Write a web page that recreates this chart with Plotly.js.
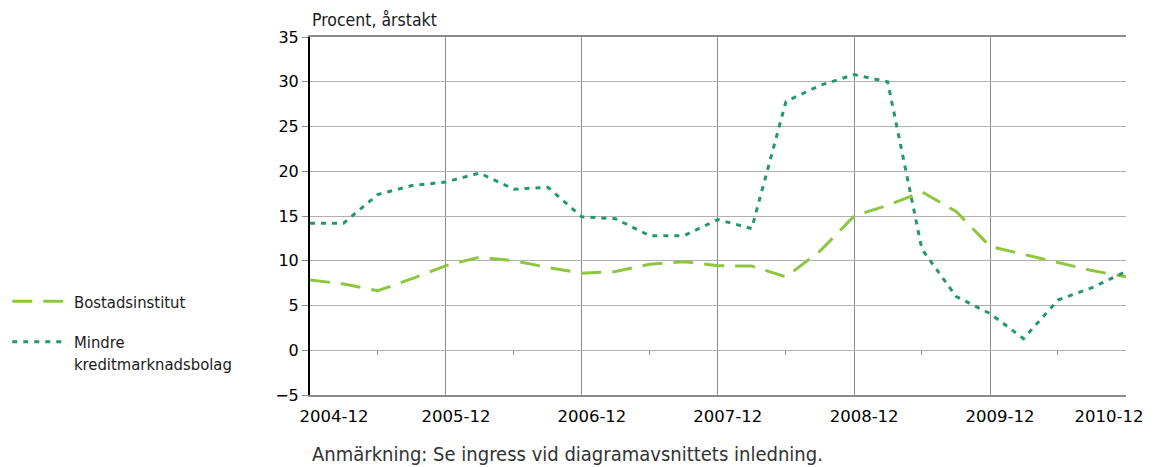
<!DOCTYPE html>
<html>
<head>
<meta charset="utf-8">
<script src="https://cdn.plot.ly/plotly-3.0.1.min.js"></script>
<style>html,body{margin:0;padding:0;background:#fff;}#chart{width:1160px;height:467px;}</style>
</head>
<body>
<div id="chart"></div>
<script>
// Quarterly observations, Dec 2004 – Dec 2010
const quarters = [
  "2004-12","2005-03","2005-06","2005-09","2005-12",
  "2006-03","2006-06","2006-09","2006-12",
  "2007-03","2007-06","2007-09","2007-12",
  "2008-03","2008-06","2008-09","2008-12",
  "2009-03","2009-06","2009-09","2009-12",
  "2010-03","2010-06","2010-09","2010-12"
];
const bostadsinstitut = [
  7.85, 7.4, 6.65, 8.0, 9.45,
  10.4, 10.0, 9.25, 8.6,
  8.8, 9.6, 9.9, 9.45,
  9.4, 8.2, 11.1, 15.0,
  16.2, 17.7, 15.5, 11.6,
  10.7, 9.8, 8.9, 8.2
];
const mindreKreditmarknadsbolag = [
  14.2, 14.2, 17.4, 18.4, 18.8,
  19.8, 18.0, 18.2, 14.9,
  14.7, 12.8, 12.8, 14.6,
  13.6, 27.8, 29.6, 30.8,
  30.0, 11.3, 6.0, 4.1,
  1.3, 5.6, 7.0, 8.8
];
const yearTicks = ["2004-12","2005-12","2006-12","2007-12","2008-12","2009-12","2010-12"];
const yearTickText = ["2004-12","2005-12","2006-12","2007-12","2008-12","2009-12","2010-12"];
const halfYearTicks = ["2005-06","2006-06","2007-06","2008-06","2009-06","2010-06"];
const seriesNames = ["\u00a0Bostadsinstitut", "\u00a0Mindre<br>\u00a0kreditmarknadsbolag"];

const FONT = "DejaVu Sans Condensed, DejaVu Sans, sans-serif";
const TICKFONT = "DejaVu Sans, sans-serif";
const xRange = ["2004-12-01", "2010-12-01"];

const nYears = yearTicks.length;
// middle labels on the main axis, first and last labels on their own overlay axes
const midText = yearTickText.map((t, i) => (i === 0 || i === nYears - 1) ? "" : t);

const traces = [
  {
    x: quarters, y: bostadsinstitut, name: seriesNames[0],
    type: "scatter", mode: "lines",
    line: {color: "#8DC63F", width: 3, dash: "20px,11px"},
    legendgroup: "a"
  },
  {
    x: quarters, y: mindreKreditmarknadsbolag, name: seriesNames[1],
    type: "scatter", mode: "lines",
    line: {color: "#22996C", width: 3, dash: "5px,6px"},
    legendgroup: "b"
  }
];

const tickFontX = {family: TICKFONT, size: 16.5, color: "#000"};

const layout = {
  width: 1160, height: 467,
  margin: {l: 310, r: 34, t: 37, b: 72, autoexpand: false},
  paper_bgcolor: "#ffffff", plot_bgcolor: "#ffffff",
  showlegend: true,
  legend: {
    x: -0.371, xanchor: "left", y: 0.31, yanchor: "top",
    font: {family: FONT, size: 16.5, color: "#1a1a1a"},
    itemwidth: 52, valign: "top", tracegroupgap: 16,
    bgcolor: "rgba(0,0,0,0)", borderwidth: 0
  },
  xaxis: {
    type: "date", range: xRange,
    tickmode: "array", tickvals: yearTicks, ticktext: midText,
    ticks: "", showgrid: true, gridcolor: "#8c8c8c", gridwidth: 1,
    showline: true, linecolor: "#8c8c8c", linewidth: 2, mirror: true,
    tickfont: tickFontX, ticklabelshift: 10, ticklabelstandoff: 5,
    zeroline: false, fixedrange: true
  },
  xaxis2: {
    type: "date", overlaying: "x", matches: "x", anchor: "free", position: 0.125,
    range: xRange,
    tickmode: "array", tickvals: halfYearTicks, ticks: "outside", ticklen: 4,
    tickcolor: "#8c8c8c", showticklabels: false, showgrid: false, showline: false,
    zeroline: false
  },
  xaxis3: {
    type: "date", overlaying: "x", matches: "x", anchor: "y", range: xRange,
    tickmode: "array", tickvals: [yearTicks[0]], ticktext: [yearTickText[0]],
    ticks: "", showgrid: false, showline: false, zeroline: false,
    tickfont: tickFontX, ticklabelshift: 24, ticklabelstandoff: 9
  },
  xaxis4: {
    type: "date", overlaying: "x", matches: "x", anchor: "y", range: xRange,
    tickmode: "array", tickvals: [yearTicks[nYears - 1]], ticktext: [yearTickText[nYears - 1]],
    ticks: "", showgrid: false, showline: false, zeroline: false,
    tickfont: tickFontX, ticklabelshift: -17, ticklabelstandoff: 9
  },
  yaxis: {
    range: [-5, 35], dtick: 5, tick0: 0,
    ticks: "outside", ticklen: 6, tickcolor: "#8c8c8c",
    showgrid: true, gridcolor: "#b0b0b0", gridwidth: 1,
    showline: true, linecolor: "#000", linewidth: 2,
    tickfont: {family: TICKFONT, size: 16, color: "#000"},
    zeroline: false, fixedrange: true
  },
  annotations: [
    {
      text: "Procent, årstakt", xref: "paper", yref: "paper",
      x: 0, y: 1, xanchor: "left", yanchor: "bottom", yshift: 5,
      showarrow: false, font: {family: FONT, size: 17.5, color: "#1a1a1a"}
    },
    {
      text: "Anmärkning: Se ingress vid diagramavsnittets inledning.",
      xref: "paper", yref: "paper",
      x: 0, y: 0, xanchor: "left", yanchor: "top", yshift: -45, xshift: 0,
      showarrow: false, font: {family: "DejaVu Sans Condensed, sans-serif", size: 20, color: "#333"}
    }
  ]
};

// invisible traces bound to the overlay axes so their ticks are drawn
["x2", "x3", "x4"].forEach(ax => {
  traces.push({x: [quarters[0]], y: [null], xaxis: ax, yaxis: "y", showlegend: false, hoverinfo: "skip", mode: "lines"});
});

Plotly.newPlot("chart", traces, layout, {displayModeBar: false, staticPlot: true});
</script>
</body>
</html>
